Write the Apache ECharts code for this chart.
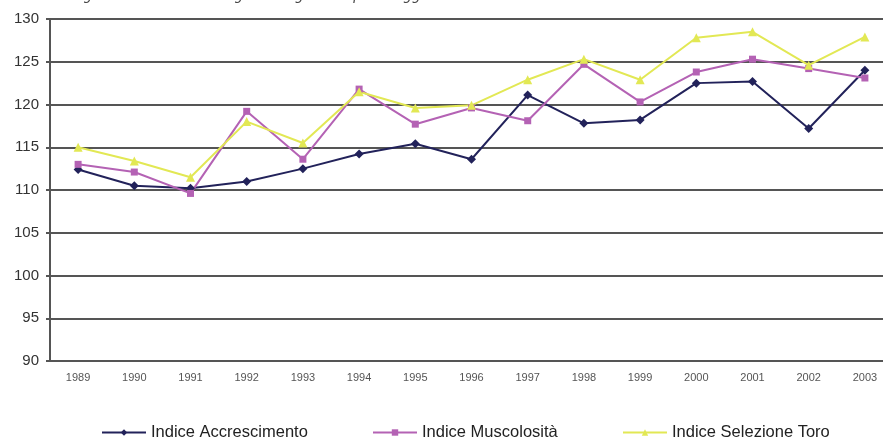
<!DOCTYPE html>
<html>
<head>
<meta charset="utf-8">
<script src="https://cdn.jsdelivr.net/npm/echarts@6/dist/echarts.min.js"></script>
<style>html,body{margin:0;padding:0;background:#fff;overflow:hidden;}#c{width:900px;height:438px;}</style>
</head>
<body>
<div id="c"></div>
<script>
const titleText = 'Figura 1: andamento degli indici genetici per i soggetti maschi nati dal 1989 al 2003';
const years = ['1989','1990','1991','1992','1993','1994','1995','1996','1997','1998','1999','2000','2001','2002','2003'];
const accrescimento = [112.4,110.5,110.2,111.0,112.5,114.2,115.4,113.6,121.1,117.8,118.2,122.5,122.7,117.2,124.0];
const muscolosita   = [113.0,112.1,109.6,119.2,113.6,121.8,117.7,119.6,118.1,124.7,120.3,123.8,125.3,124.2,123.1];
const selezioneToro = [115.0,113.4,111.5,118.0,115.5,121.5,119.6,119.9,122.9,125.3,122.9,127.8,128.5,124.6,127.9];
const names = ['Indice Accrescimento','Indice Muscolosità','Indice Selezione Toro'];
const colors = ['#22225a','#b462b4','#e2e854'];
const symbols = ['diamond','rect','triangle'];
const symbolSizes = [9,7,9];
const seriesData = [accrescimento, muscolosita, selezioneToro];

const chart = echarts.init(document.getElementById('c'), null, {renderer:'canvas'});
const legendLefts = [96, 367, 617];
chart.setOption({
  backgroundColor:'#fff',
  animation:false,
  title:{text:titleText,left:72,top:-12,padding:0,textStyle:{fontFamily:'DejaVu Sans',fontStyle:'italic',fontWeight:'normal',fontSize:13.5,lineHeight:16,color:'#444'}},
  grid:{left:50,top:19,right:7,height:342,containLabel:false},
  legend: names.map((n,i)=>({
    data:[n],left:legendLefts[i],top:419,itemWidth:44,itemHeight:8,itemGap:0,
    textStyle:{fontFamily:'Liberation Sans',fontSize:16.5,color:'#222'}
  })),
  xAxis:{type:'category',data:years,boundaryGap:true,
    axisLine:{show:true,lineStyle:{color:'#555',width:2}},
    axisTick:{show:false},
    axisLabel:{fontFamily:'Liberation Sans',fontSize:11,color:'#555',margin:11}},
  yAxis:{type:'value',min:90,max:130,interval:5,
    axisLine:{show:true,lineStyle:{color:'#555',width:2}},
    axisTick:{show:true,length:4,lineStyle:{color:'#555',width:2}},
    axisLabel:{fontFamily:'Liberation Sans',fontSize:15,color:'#333',margin:11}},
  series: names.map((n,i)=>({
    name:n,type:'line',data:seriesData[i],symbol:symbols[i],symbolSize:symbolSizes[i],
    showAllSymbol:true,
    lineStyle:{color:colors[i],width:2},itemStyle:{color:colors[i]}
  }))
});
chart.setOption({yAxis:{splitLine:{show:true,lineStyle:{color:'#555',width:2}}}});
</script>
</body>
</html>
